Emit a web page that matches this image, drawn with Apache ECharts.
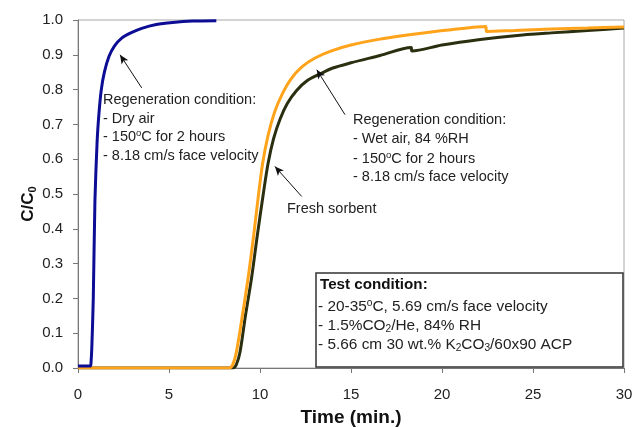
<!DOCTYPE html>
<html>
<head>
<meta charset="utf-8">
<script src="https://cdn.jsdelivr.net/npm/echarts@6/dist/echarts.min.js"></script>
<style>html,body{margin:0;padding:0;background:#fff}#c{width:644px;height:427px}</style>
</head>
<body>
<div id="c"></div>
<script>
// ---- Data ----
const xTicks = [0, 5, 10, 15, 20, 25, 30];
const yTicks = [0.0, 0.1, 0.2, 0.3, 0.4, 0.5, 0.6, 0.7, 0.8, 0.9, 1.0];

// Dry-air regenerated sorbent (blue)
const dryTime = [0, 0.68, 0.72, 0.76, 0.84, 0.93, 1.05, 1.15, 1.28, 1.45, 1.7, 2.0, 2.4, 2.9, 3.5, 4.3, 5.2, 6.3, 7.6];
const dryCC   = [0.006, 0.006, 0.02, 0.06, 0.2, 0.48, 0.65, 0.73, 0.8, 0.85, 0.895, 0.925, 0.948, 0.963, 0.976, 0.987, 0.993, 0.997, 0.998];

// Wet-air regenerated sorbent (orange)
const wetTime = [0, 8.3, 8.5, 8.7, 9.0, 9.35, 9.65, 9.9, 10.15, 10.45, 10.8, 11.2, 11.7, 12.3, 13.0, 13.85, 15.0, 16.6, 18.0, 19.3, 20.5, 22.4, 22.45, 24, 26, 28, 30];
const wetCC   = [0, 0, 0.01, 0.045, 0.14, 0.26, 0.38, 0.49, 0.59, 0.67, 0.735, 0.785, 0.83, 0.865, 0.89, 0.91, 0.928, 0.945, 0.956, 0.965, 0.972, 0.981, 0.967, 0.97, 0.974, 0.977, 0.98];

// Fresh sorbent (dark olive)
const freshTime = [0, 8.5, 8.7, 8.9, 9.2, 9.54, 9.85, 10.18, 10.45, 10.75, 11.1, 11.5, 12.0, 12.6, 13.3, 14.0, 15.0, 16.6, 18.3, 18.35, 20, 22.1, 24, 26, 28, 30];
const freshCC   = [0, 0, 0.01, 0.045, 0.15, 0.26, 0.38, 0.5, 0.59, 0.66, 0.715, 0.76, 0.797, 0.826, 0.845, 0.862, 0.877, 0.898, 0.921, 0.911, 0.928, 0.944, 0.955, 0.963, 0.97, 0.977];

// Annotation arrows: [tailX, tailY, headX, headY] in data units
const arrows = [
  [3.5, 0.805, 2.31, 0.9],
  [14.67, 0.728, 13.12, 0.857],
  [12.29, 0.493, 10.82, 0.579]
];

const zip = (a, b) => a.map((v, i) => [v, b[i]]);
const FONT = '"Liberation Sans", Arial, sans-serif';

const chart = echarts.init(document.getElementById('c'), null, {renderer: 'canvas'});

function makeRich(fs) {
  return {
    n: {fontSize: fs, fontFamily: FONT, fill: '#222', lineHeight: 17},
    s: {fontSize: fs * 0.66, fontFamily: FONT, fill: '#222', lineHeight: 10, verticalAlign: 'top'},
    b: {fontSize: fs * 0.66, fontFamily: FONT, fill: '#222', lineHeight: 10, verticalAlign: 'bottom'},
    B: {fontSize: fs, fontFamily: FONT, fill: '#111', lineHeight: 17, fontWeight: 'bold'}
  };
}
const rich1 = makeRich(14.5);
const rich2 = makeRich(15.4);
const rich3 = makeRich(15.2);

function txt(x, y, text, rich) {
  return {
    type: 'text', x: x, y: y, silent: true, z: 100,
    style: {text: text, rich: rich || rich1, fontFamily: FONT, fill: '#222', verticalAlign: 'middle', align: 'left'}
  };
}

const option = {
  animation: false,
  backgroundColor: '#fff',
  grid: {left: 78, right: 20, top: 20, bottom: 59, containLabel: false, outerBoundsMode: 'none',
    show: true, borderColor: '#a8a8a8', borderWidth: 1},
  xAxis: {
    type: 'value', min: 0, max: 30, interval: 5,
    name: 'Time (min.)', nameLocation: 'middle', nameGap: 40,
    nameTextStyle: {fontFamily: FONT, fontSize: 19, fontWeight: 'bold', color: '#111'},
    axisLine: {show: true, lineStyle: {color: '#777', width: 1}},
    axisTick: {show: true, length: 5, lineStyle: {color: '#777'}},
    axisLabel: {fontFamily: FONT, fontSize: 15, color: '#222', margin: 19,
      formatter: v => xTicks.includes(v) ? String(v) : ''},
    splitLine: {show: false}
  },
  yAxis: {
    type: 'value', min: 0, max: 1, interval: 0.1,
    name: '{m|C/C}{b|0}', nameLocation: 'middle', nameGap: 40, nameMoveOverlap: false,
    nameTextStyle: {
      padding: [0, 20, 0, 0],
      rich: {
        m: {fontFamily: FONT, fontSize: 17, fontWeight: 'bold', color: '#111', lineHeight: 20},
        b: {fontFamily: FONT, fontSize: 11, fontWeight: 'bold', color: '#111', lineHeight: 11, verticalAlign: 'bottom'}
      }
    },
    axisLine: {show: true, lineStyle: {color: '#777', width: 1}},
    axisTick: {show: true, length: 5, lineStyle: {color: '#777'}},
    axisLabel: {fontFamily: FONT, fontSize: 15, color: '#222', margin: 15,
      formatter: v => yTicks.some(t => Math.abs(t - v) < 1e-9) ? v.toFixed(1) : ''},
    splitLine: {show: false}
  },
  series: [
    {
      name: 'Fresh sorbent', type: 'line', data: zip(freshTime, freshCC),
      showSymbol: false, smooth: 0.3, z: 2,
      lineStyle: {color: '#2b2f10', width: 3}
    },
    {
      name: 'Wet air', type: 'line', data: zip(wetTime, wetCC),
      showSymbol: false, smooth: 0.3, z: 3,
      lineStyle: {color: '#ffa31a', width: 3}
    },
    {
      name: 'Dry air', type: 'line', data: zip(dryTime, dryCC),
      showSymbol: false, smooth: 0.25, z: 4,
      lineStyle: {color: '#0c0c94', width: 3},
      markLine: {
        silent: true, animation: false,
        lineStyle: {color: '#111', width: 1, type: 'solid'},
        label: {show: false},
        data: arrows.map(a => [
          {coord: [a[0], a[1]], symbol: 'none'},
          {coord: [a[2], a[3]], symbol: 'arrow', symbolSize: [6, 9]}
        ])
      }
    }
  ],
  graphic: [
    txt(103, 100, '{n|Regeneration condition:}'),
    txt(103, 118.5, '{n|- Dry air}'),
    txt(103, 137, '{n|- 150}{s|o}{n|C for 2 hours}'),
    txt(103, 155.5, '{n|- 8.18 cm/s face velocity}'),
    txt(353, 120, '{n|Regeneration condition:}'),
    txt(353, 138.5, '{n|- Wet air, 84 %RH}'),
    txt(353, 158.5, '{n|- 150}{s|o}{n|C for 2 hours}'),
    txt(353, 177, '{n|- 8.18 cm/s face velocity}'),
    txt(287, 209, '{n|Fresh sorbent}'),
    {
      type: 'rect', z: 90, silent: true,
      shape: {x: 316, y: 273, width: 307, height: 94},
      style: {fill: '#fff', stroke: '#333', lineWidth: 1.5}
    },
    txt(320, 285, '{B|Test condition:}', rich3),
    txt(318, 306.5, '{n|- 20-35}{s|o}{n|C, 5.69 cm/s face velocity}', rich2),
    txt(318, 325.5, '{n|- 1.5%CO}{b|2}{n|/He, 84% RH}', rich2),
    txt(318, 345, '{n|- 5.66 cm 30 wt.% K}{b|2}{n|CO}{b|3}{n|/60x90 ACP}', rich2)
  ]
};
chart.setOption(option);
</script>
</body>
</html>
